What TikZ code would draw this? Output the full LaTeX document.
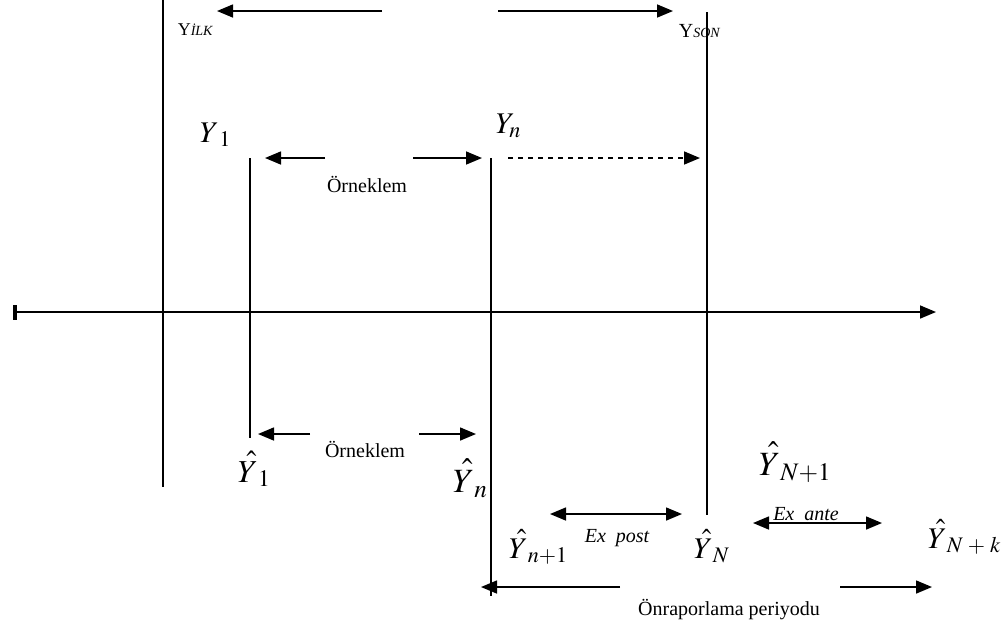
\documentclass[tikz,border=0pt]{standalone}
\usepackage{mathptmx}
\usepackage{fontspec}
\setmainfont{Liberation Serif}
\usetikzlibrary{arrows.meta}
\newcommand{\hY}{\skew{4}\hat{\raisebox{0pt}[1.15\height]{$Y$}}}

\begin{document}
\begin{tikzpicture}[x=0.5pt,y=-0.5pt,>={Triangle[length=8pt,width=6.5pt]},line width=0.8pt]
	\tikzstyle{txt}=[inner sep=0pt,font=\fontsize{10}{12}\selectfont]
	\tikzstyle{ital}=[inner sep=0pt,font=\fontsize{10}{12}\selectfont\itshape]
	\tikzstyle{sym}=[inner sep=0pt,anchor=base west,font=\fontsize{16}{18}\selectfont]
	\useasboundingbox (0,0) rectangle (1004,623);
	% vertical markers
	\draw (163,0) -- (163,487);
	\draw (250,158) -- (250,438);
	\draw (491,158) -- (491,596);
	\draw (707,12) -- (707,515);
	% time axis
	\draw[{Bar[width=7.5pt,line width=2pt]}->] (13,312) -- (936,312);
	% first and last observation
	\node[txt,anchor=base west] (ilk) at (177,35) {\fontsize{9}{10}\selectfont Y{\itshape\fontsize{7}{8}\selectfont İLK}};
	\node[txt,anchor=base west] (son) at (678,37) {Y{\itshape\fontsize{7}{8}\selectfont SON}};
	\draw[->] (382,11) -- (217,11);
	\draw[->] (498,11) -- (673,11);
	% sample
	\node[sym,font=\fontsize{15}{18}\selectfont] (y1) at (199,142) {$Y_{\hspace{3pt}1}$};
	\node[sym,font=\fontsize{15}{18}\selectfont] (yn) at (495,133) {$Y_n$};
	\draw[->] (325,158) -- (265,158);
	\draw[->] (413,158) -- (482,158);
	\node[txt] (ornek1) at (367,184) {Örneklem};
	\draw[->,dash pattern=on 2.5pt off 2.5pt] (508,158) -- (700,158);
	% fitted values
	\draw[->] (310,434) -- (258,434);
	\draw[->] (419,434) -- (476,434);
	\node[txt] (ornek2) at (365,449) {Örneklem};
	\node[sym] (yh1) at (237,482) {$\hY_1$};
	\node[sym,font=\fontsize{17}{20}\selectfont] (yhn) at (452,492) {$\hY_n$};
	\node[sym,font=\fontsize{17}{20}\selectfont] (yhNa) at (758,475) {$\hY_{N+1}$};
	\node[sym,font=\fontsize{15}{18}\selectfont] (yhna) at (508,558) {$\hY_{n+1}$};
	\draw[<->] (550,514) -- (682,514);
	\node[ital] (expost) at (617,538) {Ex\ \ post};
	\node[sym,font=\fontsize{15}{18}\selectfont] (yhN) at (693,558) {$\hY_N$};
	\draw[<->] (753,523) -- (882,523);
	\node[ital] (exante) at (806,514) {Ex\ \ ante};
	\node[sym,font=\fontsize{15}{18}\selectfont] (yhNk) at (927,548) {$\hY_{N\;+\;k}$};
	% forecast period
	\draw[->] (620,587) -- (481,587);
	\draw[->] (840,587) -- (932,587);
	\node[txt] (onrap) at (729,610) {Önraporlama periyodu};
\end{tikzpicture}
\end{document}
